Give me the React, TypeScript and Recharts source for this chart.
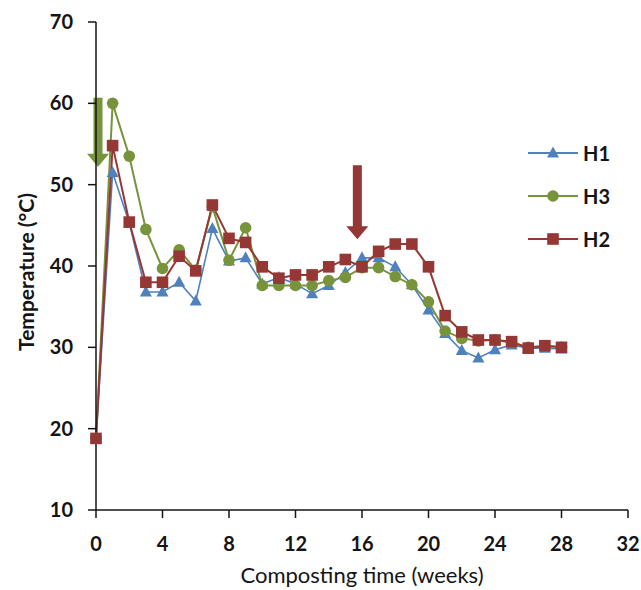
import React from 'react'
import { LineChart, Line, XAxis, YAxis, Legend, ReferenceLine } from 'recharts'

// composting time (weeks)
const weeks = [0, 1, 2, 3, 4, 5, 6, 7, 8, 9, 10, 11, 12, 13, 14, 15, 16, 17, 18, 19, 20, 21, 22, 23, 24, 25, 26, 27, 28]

// temperature (°C) per heap
const h1 = [18.8, 51.5, 45.3, 36.8, 36.8, 38.0, 35.7, 44.6, 40.6, 41.0, 37.8, 38.6, 37.8, 36.6, 37.6, 39.2, 41.0, 41.0, 39.9, 37.7, 34.6, 31.7, 29.6, 28.7, 29.7, 30.3, 29.9, 29.9, 29.8]
const h3 = [18.8, 60.0, 53.5, 44.5, 39.7, 42.0, 39.5, 47.3, 40.7, 44.7, 37.6, 37.6, 37.6, 37.6, 38.2, 38.6, 39.8, 39.8, 38.7, 37.7, 35.6, 32.0, 31.1, 30.8, 30.9, 30.6, 30.0, 30.2, 30.0]
const h2 = [18.8, 54.8, 45.4, 38.0, 38.0, 41.2, 39.4, 47.5, 43.4, 42.9, 39.9, 38.5, 38.9, 38.9, 39.9, 40.8, 39.9, 41.8, 42.7, 42.7, 39.9, 33.9, 31.9, 30.9, 30.9, 30.7, 29.9, 30.2, 30.0]

const xTicks = [0, 4, 8, 12, 16, 20, 24, 28, 32]
const yTicks = [10, 20, 30, 40, 50, 60, 70]

const BLUE = '#4F81BD'
const GREEN = '#77933C'
const RED = '#953735'
const INK = '#141414'
const FONT = 'Lato, "Open Sans", sans-serif'

// annotation arrows: week, top value, tip value
const arrowWeeks = [0.12, 15.72]
const arrowTops = [60.7, 52.4]
const arrowTips = [52.2, 43.3]
const arrowColors = [GREEN, RED]

const series = [
  { key: 'h1', name: 'H1', color: BLUE, width: 1.6, shape: 'triangle' },
  { key: 'h3', name: 'H3', color: GREEN, width: 2, shape: 'circle' },
  { key: 'h2', name: 'H2', color: RED, width: 2, shape: 'square' },
]

const data = weeks.map((w, i) => ({ week: w, h1: h1[i], h3: h3[i], h2: h2[i] }))

function Marker({ shape, cx, cy, color }: { shape: string; cx: number; cy: number; color: string }) {
  if (shape === 'triangle') {
    return <path d={`M${cx},${cy - 6.5}L${cx + 6},${cy + 4.5}L${cx - 6},${cy + 4.5}Z`} fill={color} />
  }
  if (shape === 'circle') {
    return <circle cx={cx} cy={cy} r={5.8} fill={color} />
  }
  return <rect x={cx - 5.8} y={cy - 5.8} width={11.6} height={11.6} fill={color} />
}

function makeDot(shape: string, color: string) {
  return (p: any) => {
    if (p.cx == null || p.cy == null) return <g key={`${shape}-${p.index}`} />
    return (
      <g key={`${shape}-${p.index}`}>
        <Marker shape={shape} cx={p.cx} cy={p.cy} color={color} />
      </g>
    )
  }
}

function makeArrow(color: string) {
  return (p: any) => {
    const x = p.x1
    const top = Math.min(p.y1, p.y2)
    const tip = Math.max(p.y1, p.y2)
    const head = 13
    const d = `M${x - 4.5},${top}L${x + 4.5},${top}L${x + 4.5},${tip - head}L${x + 11},${tip - head}L${x},${tip}L${x - 11},${tip - head}L${x - 4.5},${tip - head}Z`
    return <path d={d} fill={color} />
  }
}

function YTitle(props: any) {
  const vb = props.viewBox || { y: 22, height: 488 }
  const cx = 25
  const cy = vb.y + vb.height / 2 + 6
  return (
    <text
      x={cx}
      y={cy}
      transform={`rotate(-90, ${cx}, ${cy})`}
      textAnchor="middle"
      dominantBaseline="central"
      fontFamily={FONT}
      fontWeight={700}
      fontSize={21}
      fill={INK}
    >
      Temperature (°C)
    </text>
  )
}

function LegendBox() {
  return (
    <svg width={110} height={130}>
      {series.map((s, i) => (
        <g key={s.key} transform={`translate(0, ${14 + i * 43})`}>
          <line x1={6} x2={56} y1={0} y2={0} stroke={s.color} strokeWidth={2} />
          <Marker shape={s.shape} cx={31} cy={0} color={s.color} />
          <text x={61} y={0} dominantBaseline="central" fontFamily={FONT} fontWeight={700} fontSize={20} fill={INK}>
            {s.name}
          </text>
        </g>
      ))}
    </svg>
  )
}

export default function App() {
  return (
    <div style={{ position: 'absolute', left: 0, top: 0, background: '#fff' }}>
      <LineChart width={641} height={590} data={data} margin={{ top: 22, right: 13, bottom: 4, left: 0 }}>
        <XAxis
          type="number"
          dataKey="week"
          domain={[0, 32]}
          ticks={xTicks}
          interval={0}
          tickSize={8}
          tickMargin={19}
          height={76}
          stroke={INK}
          axisLine={{ stroke: INK, strokeWidth: 1.5 }}
          tickLine={{ stroke: INK, strokeWidth: 1.5 }}
          tick={{ fontSize: 20, fontWeight: 700, fill: INK, fontFamily: FONT }}
          label={{
            value: 'Composting time (weeks)',
            position: 'insideBottom',
            offset: 3,
            fontSize: 22,
            fill: INK,
            fontFamily: FONT,
          }}
        />
        <YAxis
          type="number"
          domain={[10, 70]}
          ticks={yTicks}
          interval={0}
          width={96}
          tickSize={8}
          tickMargin={15}
          stroke={INK}
          axisLine={{ stroke: INK, strokeWidth: 1.5 }}
          tickLine={{ stroke: INK, strokeWidth: 1.5 }}
          tick={{ fontSize: 20, fontWeight: 700, fill: INK, fontFamily: FONT }}
          label={{ content: (p: any) => <YTitle {...p} /> }}
        />
        {series.map((s) => (
          <Line
            key={s.key}
            type="linear"
            dataKey={s.key}
            name={s.name}
            stroke={s.color}
            strokeWidth={s.width}
            dot={makeDot(s.shape, s.color)}
            activeDot={false}
            isAnimationActive={false}
          />
        ))}
        {arrowWeeks.map((w, i) => (
          <ReferenceLine
            key={`arrow-${i}`}
            segment={[
              { x: w, y: arrowTops[i] },
              { x: w, y: arrowTips[i] },
            ]}
            ifOverflow="visible"
            shape={makeArrow(arrowColors[i])}
          />
        ))}
        <Legend
          layout="vertical"
          verticalAlign="middle"
          align="center"
          content={() => <LegendBox />}
          wrapperStyle={{ left: 522, top: 139, width: 110, right: 'auto', bottom: 'auto' }}
        />
      </LineChart>
    </div>
  )
}
